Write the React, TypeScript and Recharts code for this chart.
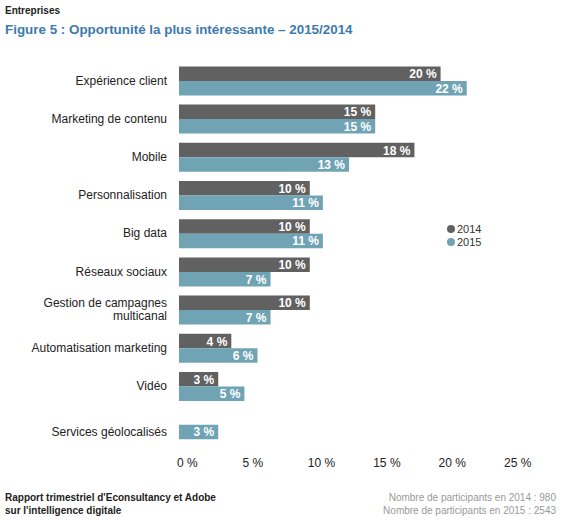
import { BarChart, Bar, XAxis, YAxis, LabelList } from 'recharts'

const categories = [
  'Expérience client',
  'Marketing de contenu',
  'Mobile',
  'Personnalisation',
  'Big data',
  'Réseaux sociaux',
  'Gestion de campagnes multicanal',
  'Automatisation marketing',
  'Vidéo',
  'Services géolocalisés',
]
const values2014 = [20, 15, 18, 10, 10, 10, 10, 4, 3, null]
const values2015 = [22, 15, 13, 11, 11, 7, 7, 6, 5, 3]
const xTicks = [0, 5, 10, 15, 20, 25]
const seriesNames = ['2014', '2015']

const GRAY = '#616161'
const BLUE = '#70a4b5'
const FONT = '"Liberation Sans", Arial, sans-serif'
const BAR_SIZE = 14.5

const data = categories.map((name, i) => ({
  name,
  y2014: values2014[i],
  y2015: values2015[i],
}))

function wrap(label: string): string[] {
  if (label.length <= 26) return [label]
  const words = label.split(' ')
  const first: string[] = []
  while (words.length > 1 && [...first, words[0]].join(' ').length <= 22) first.push(words.shift() as string)
  return [first.join(' '), words.join(' ')]
}

function CategoryTick(props: any) {
  const { x, y, payload, index } = props
  const lines = wrap(payload.value)
  // a category with only the 2015 bar gets its label next to that bar
  const shift = values2014[index] == null ? BAR_SIZE / 2 : 0
  const start = -((lines.length - 1) * 13) / 2 + shift
  return (
    <text x={x} y={y} textAnchor="end" fill="#222" fontSize={12} fontFamily={FONT}>
      {lines.map((l, i) => (
        <tspan key={i} x={x} y={y + start + i * 13} dominantBaseline="central">
          {l}
        </tspan>
      ))}
    </text>
  )
}

function PercentTick(props: any) {
  const { x, y, payload } = props
  return (
    <text x={x - 2} y={y} dy="0.71em" textAnchor="start" fill="#222" fontSize={12} fontFamily={FONT}>
      {payload.value} %
    </text>
  )
}

function BarValue(props: any) {
  const { x, y, width, height, value } = props
  if (value == null || value === 0) return null
  return (
    <text
      x={x + width - 4}
      y={y + height / 2 + 0.5}
      textAnchor="end"
      dominantBaseline="central"
      fill="#fff"
      fontSize={12}
      fontWeight="bold"
      fontFamily={FONT}
    >
      {value} %
    </text>
  )
}

function LegendBox() {
  const colors = [GRAY, BLUE]
  return (
    <div style={{ position: 'absolute', left: 447, top: 222, fontSize: 11, color: '#333' }}>
      {seriesNames.map((label, i) => (
        <div key={label} style={{ display: 'flex', alignItems: 'center', height: 13.5 }}>
          <span
            style={{
              display: 'inline-block',
              width: 8,
              height: 8,
              borderRadius: 4,
              background: colors[i],
              marginRight: 2,
            }}
          />
          {label}
        </div>
      ))}
    </div>
  )
}

export default function App() {
  return (
    <div style={{ position: 'absolute', left: 0, top: 0, width: 564, height: 520, background: '#fff', fontFamily: FONT }}>
      <div style={{ position: 'absolute', left: 5, top: 5, fontSize: 10, fontWeight: 'bold', color: '#222' }}>
        Entreprises
      </div>
      <div style={{ position: 'absolute', left: 5, top: 22, fontSize: 13.4, fontWeight: 'bold', color: '#3d7ab0' }}>
        Figure 5 : Opportunité la plus intéressante – 2015/2014
      </div>
      <BarChart
        width={564}
        height={520}
        data={data}
        layout="vertical"
        margin={{ top: 61.4, right: 58, bottom: 46.6, left: 0 }}
        barGap={0}
        barSize={BAR_SIZE}
      >
        <XAxis
          type="number"
          domain={[0, 25]}
          ticks={xTicks}
          axisLine={false}
          tickLine={false}
          tickSize={0}
          tickMargin={15}
          height={30}
          tick={<PercentTick />}
        />
        <YAxis
          type="category"
          dataKey="name"
          width={179}
          axisLine={false}
          tickLine={false}
          tickSize={0}
          tickMargin={12}
          interval={0}
          tick={<CategoryTick />}
        />
        <Bar dataKey="y2014" name={seriesNames[0]} fill={GRAY} isAnimationActive={false}>
          <LabelList dataKey="y2014" content={<BarValue />} />
        </Bar>
        <Bar dataKey="y2015" name={seriesNames[1]} fill={BLUE} isAnimationActive={false}>
          <LabelList dataKey="y2015" content={<BarValue />} />
        </Bar>
      </BarChart>
      <LegendBox />
      <div style={{ position: 'absolute', left: 5, top: 491, fontSize: 10, fontWeight: 'bold', color: '#222', lineHeight: '13px' }}>
        Rapport trimestriel d'Econsultancy et Adobe
        <br />
        sur l'intelligence digitale
      </div>
      <div
        style={{
          position: 'absolute',
          right: 8,
          top: 491,
          fontSize: 10,
          color: '#999',
          textAlign: 'right',
          lineHeight: '13px',
        }}
      >
        Nombre de participants en 2014 : 980
        <br />
        Nombre de participants en 2015 : 2543
      </div>
    </div>
  )
}
